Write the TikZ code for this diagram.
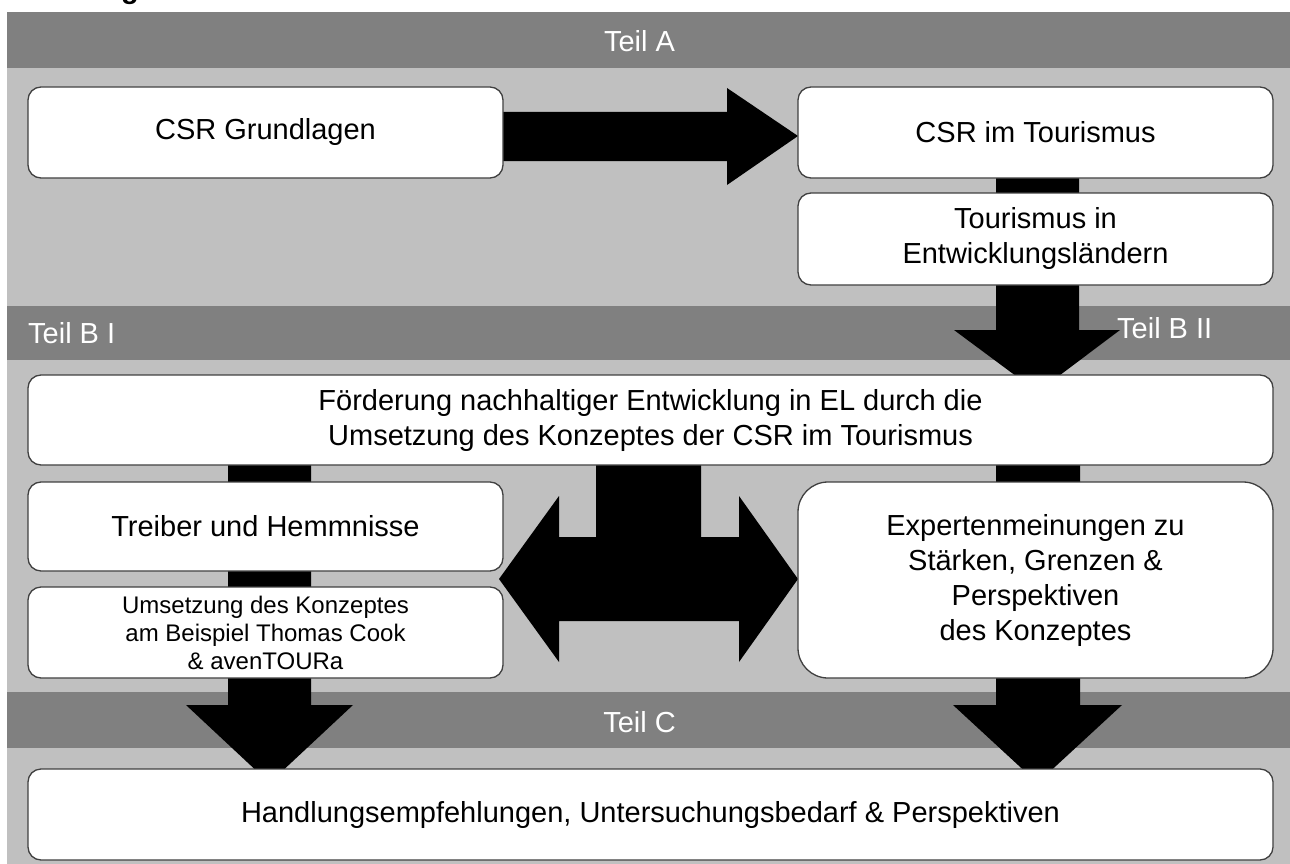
\documentclass[tikz,border=0pt]{standalone}
\usepackage{fontspec}
\setmainfont{Liberation Sans}
\usetikzlibrary{calc}
\definecolor{banddark}{HTML}{808080}
\definecolor{bandlight}{HTML}{C0C0C0}
\definecolor{boxline}{HTML}{404040}
\begin{document}
\begin{tikzpicture}[x=1pt,y=-1pt,
  box/.style={draw=boxline,line width=1.3pt,fill=white,rounded corners=13pt,inner sep=0pt,align=center,font=\fontsize{29}{35}\selectfont},
  blockarrow/.style={fill=black},
  bandlabel/.style={text=white,font=\fontsize{29}{35}\selectfont,inner sep=0pt}]
\useasboundingbox (0,0) rectangle (1290,864);
\clip (0,0) rectangle (1290,864);
% cut-off title fragment
\node[anchor=base,font=\bfseries\fontsize{29}{35}\selectfont,inner sep=0pt] (title) at (130,-1) {g};
% bands
\fill[bandlight] (7,68) rectangle (1290,864);
\fill[banddark] (7,12) rectangle (1290,68);
\fill[banddark] (7,306) rectangle (1290,360);
\fill[banddark] (7,692) rectangle (1290,748);
% node centres (boxes drawn after arrows)
\coordinate (gc) at (265.5,132.5);
\coordinate (tc) at (1035.5,132.5);
\coordinate (ec) at (1035.5,239);
\coordinate (fc) at (650.5,420);
\coordinate (thc) at (265.5,526.5);
\coordinate (uc) at (265.5,632.5);
\coordinate (xc) at (1035.5,580);
\coordinate (hc) at (650.5,814.5);
% block arrows
\fill[blockarrow] (gc |- 0,112) -- (727,112) -- (727,88) -- (798,136) -- (727,185) -- (727,161) -- (gc |- 0,161) -- cycle;
\fill[blockarrow] (996,0 |- tc) -- (1079,0 |- tc) -- (1079,330) -- (1120,330) -- (1037.5,392) -- (954,330) -- (996,330) -- cycle;
\fill[blockarrow] (228,0 |- fc) -- (311,0 |- fc) -- (311,705) -- (353,705) -- (269.5,783) -- (186,705) -- (228,705) -- cycle;
\fill[blockarrow] (996,0 |- fc) -- (1080,0 |- fc) -- (1080,705) -- (1122,705) -- (1037.5,783) -- (953,705) -- (996,705) -- cycle;
\fill[blockarrow] (596,0 |- fc) -- (701,0 |- fc) -- (701,537) -- (739,537) -- (739,496) -- (798,579) -- (739,662) -- (739,621) -- (559,621) -- (559,662) -- (499,579) -- (559,496) -- (559,537) -- (596,537) -- cycle;
% boxes
\node[box,minimum width=475pt,minimum height=91pt] (g) at (gc) {CSR Grundlagen};
\node[box,minimum width=475pt,minimum height=91pt] (t) at (tc) {CSR im Tourismus};
\node[box,minimum width=475pt,minimum height=92pt] (e) at (ec) {Tourismus in\\Entwicklungsländern};
\node[box,minimum width=1245pt,minimum height=90pt] (f) at (fc) {Förderung nachhaltiger Entwicklung in EL durch die\\Umsetzung des Konzeptes der CSR im Tourismus};
\node[box,minimum width=475pt,minimum height=89pt] (th) at (thc) {Treiber und Hemmnisse};
\node[box,minimum width=475pt,minimum height=91pt,font=\fontsize{24}{28}\selectfont] (u) at (uc) {Umsetzung des Konzeptes\\am Beispiel Thomas Cook\\\& avenTOURa};
\node[box,rounded corners=30pt,minimum width=475pt,minimum height=196pt] (x) at (xc) {Expertenmeinungen zu\\Stärken, Grenzen \&\\Perspektiven\\des Konzeptes};
\node[box,minimum width=1245pt,minimum height=91pt] (h) at (hc) {Handlungsempfehlungen, Untersuchungsbedarf \& Perspektiven};
% band labels
\node[bandlabel,anchor=base] (la) at (639.5,52) {Teil A};
\node[bandlabel,anchor=base west] (lb1) at (28,343) {Teil B I};
\node[bandlabel,anchor=base west] (lb2) at (1117,338) {Teil B II};
\node[bandlabel,anchor=base] (lc) at (639.5,732) {Teil C};
\end{tikzpicture}
\end{document}
